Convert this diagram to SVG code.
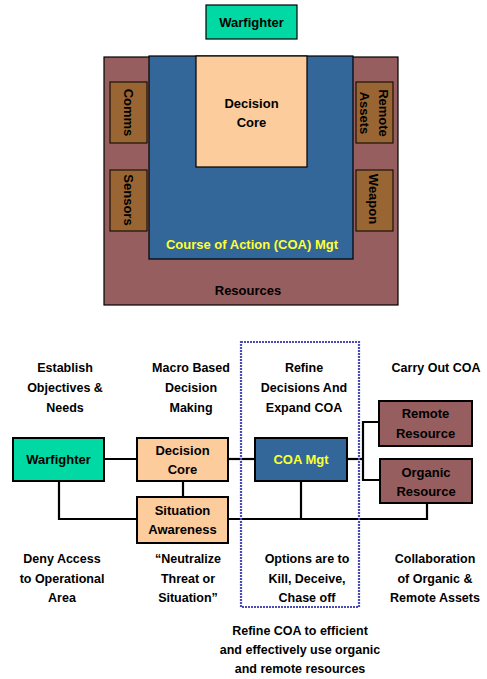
<svg xmlns="http://www.w3.org/2000/svg" width="487" height="679" viewBox="0 0 487 679">
<style>
text{font-family:"Liberation Sans",Arial,sans-serif;font-weight:bold;font-size:13px;text-anchor:middle;fill:#000}
.wf{fill:#00d9a4;stroke:#000;stroke-width:1.2}
.dc{fill:#fccc9c;stroke:#000;stroke-width:1.2}
.coa{fill:#336699;stroke:#000;stroke-width:1.2}
.res{fill:#965e5e;stroke:#000;stroke-width:1.2}
.sub{fill:#996633;stroke:#000;stroke-width:1}
.b{stroke-width:2}
.yl{fill:#ffff33}
.hd{font-size:12.5px}
.ln{fill:none;stroke:#000;stroke-width:2.2}
</style>
<g id="top-warfighter"><rect class="wf" x="206" y="5" width="91" height="34"/><text x="251.5" y="27">Warfighter</text></g>
<g id="top-resources"><rect class="res" x="104" y="57" width="294" height="248"/><text x="248" y="295">Resources</text></g>
<g id="top-coa"><rect class="coa" x="149" y="56" width="204" height="203"/><text class="yl" x="252" y="249">Course of Action (COA) Mgt</text></g>
<g id="top-decision"><rect class="dc" x="196" y="56" width="111" height="111"/><text x="251.5" y="108">Decision</text><text x="251.5" y="127">Core</text></g>
<g id="top-comms"><rect class="sub" x="110" y="82" width="37" height="61"/><text transform="translate(128.5,112.5) rotate(90)" y="4.5">Comms</text></g>
<g id="top-sensors"><rect class="sub" x="110" y="170" width="37" height="61"/><text transform="translate(128.5,200) rotate(90)" y="4.5">Sensors</text></g>
<g id="top-remote"><rect class="sub" x="356" y="82" width="37" height="61"/><text transform="translate(373.5,113) rotate(90)" y="-5">Remote</text><text transform="translate(373.5,113) rotate(90)" y="14">Assets</text></g>
<g id="top-weapon"><rect class="sub" x="356" y="170" width="37" height="61"/><text transform="translate(373.5,199) rotate(90)" y="4.5">Weapon</text></g>

<g id="connectors">
<polyline class="ln" points="104,459 137,459"/>
<polyline class="ln" points="228,459 255,459"/>
<polyline class="ln" points="347,459 363,459"/>
<polyline class="ln" points="379,422 363,422 363,480 380,480"/>
<polyline class="ln" points="183,481 183,497"/>
<polyline class="ln" points="59,481 59,519 427,519 427,503"/>
<polyline class="ln" points="301,481 301,519"/>
</g>

<g id="zone"><rect x="241" y="342" width="118" height="265" fill="none" stroke="#4b4bb8" stroke-width="2.2" stroke-dasharray="2,1"/></g>

<g id="warfighter"><rect class="wf b" x="13" y="438" width="91" height="43"/><text x="58.5" y="464">Warfighter</text></g>
<g id="decision-core"><rect class="dc b" x="137" y="438" width="91" height="43"/><text x="182.5" y="455">Decision</text><text x="182.5" y="474">Core</text></g>
<g id="situation-awareness"><rect class="dc b" x="137" y="497" width="91" height="46"/><text x="182.5" y="515">Situation</text><text x="182.5" y="534">Awareness</text></g>
<g id="coa-mgt"><rect class="coa b" x="255" y="438" width="92" height="43"/><text class="yl" x="301" y="464">COA Mgt</text></g>
<g id="remote-resource"><rect class="res b" x="379" y="401" width="93" height="45"/><text x="425.5" y="418">Remote</text><text x="425.5" y="438">Resource</text></g>
<g id="organic-resource"><rect class="res b" x="380" y="459" width="92" height="44"/><text x="426" y="477">Organic</text><text x="426" y="496">Resource</text></g>

<g id="labels">
<text class="hd" x="65" y="371.5">Establish</text><text class="hd" x="65" y="391.5">Objectives &amp;</text><text class="hd" x="65" y="411.5">Needs</text>
<text class="hd" x="191" y="371.5">Macro Based</text><text class="hd" x="191" y="391.5">Decision</text><text class="hd" x="191" y="411.5">Making</text>
<text class="hd" x="304" y="371.5">Refine</text><text class="hd" x="304" y="391.5">Decisions And</text><text class="hd" x="304" y="411.5">Expand COA</text>
<text class="hd" x="436" y="371.5">Carry Out COA</text>
<text class="hd" x="62" y="562.5">Deny Access</text><text class="hd" x="62" y="582.5">to Operational</text><text class="hd" x="62" y="601.5">Area</text>
<text class="hd" x="188" y="562.5">“Neutralize</text><text class="hd" x="188" y="582.5">Threat or</text><text class="hd" x="188" y="601.5">Situation”</text>
<text class="hd" x="307" y="562.5">Options are to</text><text class="hd" x="307" y="582.5">Kill, Deceive,</text><text class="hd" x="307" y="601.5">Chase off</text>
<text class="hd" x="435" y="562.5">Collaboration</text><text class="hd" x="435" y="582.5">of Organic &amp;</text><text class="hd" x="435" y="601.5">Remote Assets</text>
<text class="hd" x="300" y="634.5">Refine COA to efficient</text><text class="hd" x="300" y="653.5">and effectively use organic</text><text class="hd" x="300" y="672.5">and remote resources</text>
</g>
</svg>
